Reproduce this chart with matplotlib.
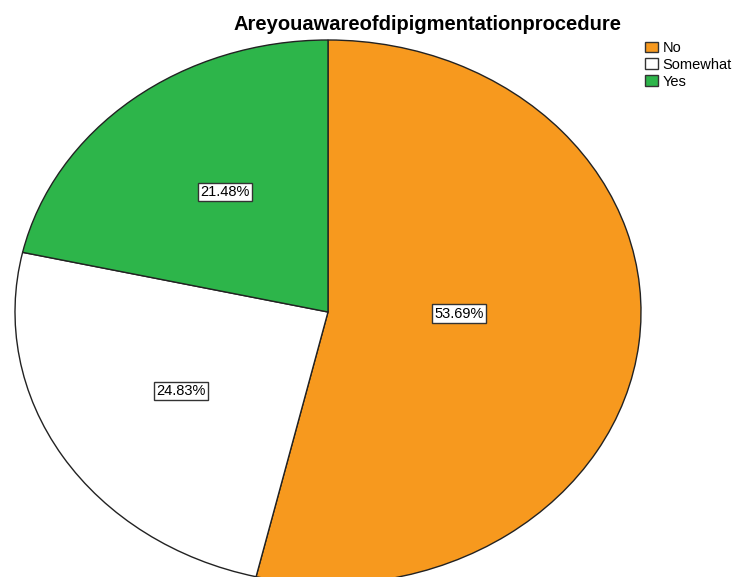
import matplotlib.pyplot as plt
from matplotlib.patches import Patch

plt.rcParams["font.family"] = ["Liberation Sans", "DejaVu Sans"]

categories = ["No", "Somewhat", "Yes"]
percentages = [53.69, 24.83, 21.48]
colors = ["#F7991E", "#FFFFFF", "#2DB54A"]
title = "Areyouawareofdipigmentationprocedure"

# where each percentage box sits inside the pie (unit-radius coords)
label_pos = [(0.419, -0.006), (-0.470, -0.290), (-0.330, 0.442)]

W, H = 736, 577
fig = plt.figure(figsize=(W / 100, H / 100), dpi=100)

# pie ellipse spans x 15..641, y 40..584 (pixels from top)
left, right, top, bottom = 15, 641, 40, 584
ax = fig.add_axes([left / W, (H - bottom) / H, (right - left) / W, (bottom - top) / H])

wedges, texts, autotexts = ax.pie(
    percentages,
    colors=colors,
    startangle=90,
    counterclock=False,
    autopct="%.2f%%",
    wedgeprops=dict(edgecolor="#222222", linewidth=1.0),
    textprops=dict(fontsize=10.5, color="black"),
)
ax.set_aspect("auto")
ax.set_xlim(-1, 1)
ax.set_ylim(-1, 1)
ax.axis("off")

for t, (x, y) in zip(autotexts, label_pos):
    t.set_position((x, y))
    t.set_ha("center")
    t.set_va("center")
    t.set_bbox(dict(boxstyle="square,pad=0.15", facecolor="white", edgecolor="#333333", linewidth=1.0))

fig.text(428 / W, 1 - 25 / H, title, ha="center", va="center", fontsize=14.5, fontweight="bold")

handles = [Patch(facecolor=c, edgecolor="#333333", linewidth=1.0) for c in colors]
fig.legend(
    handles, categories,
    loc="upper left",
    bbox_to_anchor=(645 / W, 1 - 41 / H),
    frameon=False,
    fontsize=10.5,
    handlelength=0.9,
    handleheight=0.75,
    handletextpad=0.3,
    labelspacing=0.2,
    borderaxespad=0,
    borderpad=0,
)

fig.savefig("out.png", dpi=100)
